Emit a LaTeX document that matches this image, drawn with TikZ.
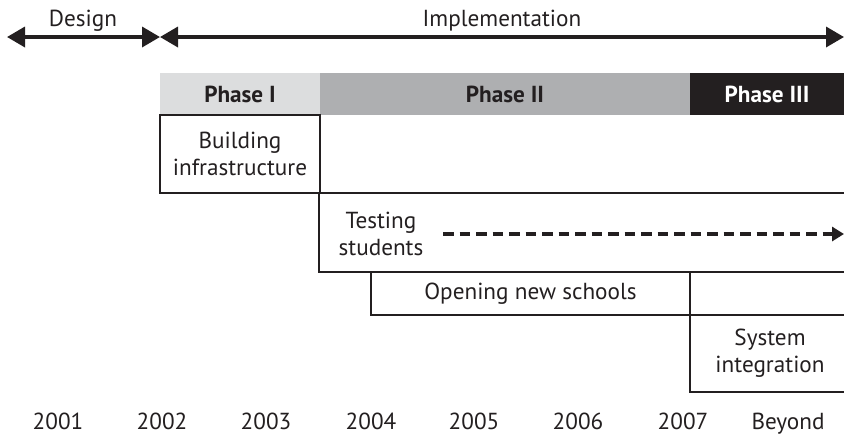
\documentclass[tikz,border=0pt]{standalone}
\usepackage{fontspec}
\setmainfont{PT Sans}
\usetikzlibrary{arrows.meta,fit}
\definecolor{ink}{HTML}{231F20}
\definecolor{phone}{HTML}{DCDDDE}
\definecolor{phtwo}{HTML}{AEAFB1}
\begin{document}
\begin{tikzpicture}[x=0.5pt,y=-0.5pt,
  font=\fontsize{11.6}{13.5}\selectfont, text=ink,
  box/.style={draw=ink, line width=0.65pt, inner sep=0pt},
  lbl/.style={align=center, inner sep=0pt},
  phaselbl/.style={inner sep=0pt, font=\fontsize{11.6}{13.5}\selectfont\bfseries},
  yr/.style={anchor=base},
  bigarrow/.style={draw=ink, line width=1.75pt, {Triangle[length=9pt,width=10pt]}-{Triangle[length=9pt,width=10pt]}},
  dasharrow/.style={draw=ink, line width=1.9pt, dash pattern=on 5.25pt off 3pt, -{Triangle[length=6pt,width=7pt]}}]
\useasboundingbox (0,0) rectangle (844,435);
\clip (0,0) rectangle (844,435);

% top arrows
\coordinate (dl) at (7,37);
\coordinate (mid) at (160,37);
\coordinate (ir) at (844,37);
\draw[bigarrow] (dl) -- (mid);
\draw[bigarrow] (mid) -- (ir);
\node[anchor=base] (design) at (83,26) {Design};
\node[anchor=base] (impl) at (502,26) {Implementation};

% phases
\node[fit={(160,73)(320,115)}, fill=phone, inner sep=0pt] (p1) {};
\node[fit={(320,73)(690,115)}, fill=phtwo, inner sep=0pt] (p2) {};
\node[fit={(690,73)(850,115)}, fill=ink, inner sep=0pt] (p3) {};
\node[phaselbl] (p1t) at (240,94) {Phase I};
\node[phaselbl] (p2t) at (505,94) {Phase II};
\node[phaselbl, text=white] (p3t) at (767,94) {Phase III};

% boxes
\node[fit={(160,115)(320,193)}, box] (build) {};
\node[lbl] (buildt) at (build.center) {Building\\infrastructure};
\node[fit={(319,193)(850,272)}, box] (test) {};
\node[lbl] (testt) at (381,234) {Testing\\students};
\node[fit={(371,272)(690,315)}, box] (open) {};
\node[lbl] (opent) at (open.center) {Opening new schools};
\node[fit={(690,315)(850,392)}, box] (sys) {};
\node[lbl] (syst) at (770,353) {System\\integration};

% dashed arrow
\coordinate (ds) at (443,234);
\coordinate (de) at (844,234);
\draw[dasharrow] (ds) -- (de);

% years
\node[yr] (y1) at (58,429) {2001};
\node[yr] (y2) at (162,429) {2002};
\node[yr] (y3) at (266,429) {2003};
\node[yr] (y4) at (371,429) {2004};
\node[yr] (y5) at (474,429) {2005};
\node[yr] (y6) at (578,429) {2006};
\node[yr] (y7) at (683,429) {2007};
\node[yr] (y8) at (788,429) {Beyond};
\end{tikzpicture}
\end{document}
